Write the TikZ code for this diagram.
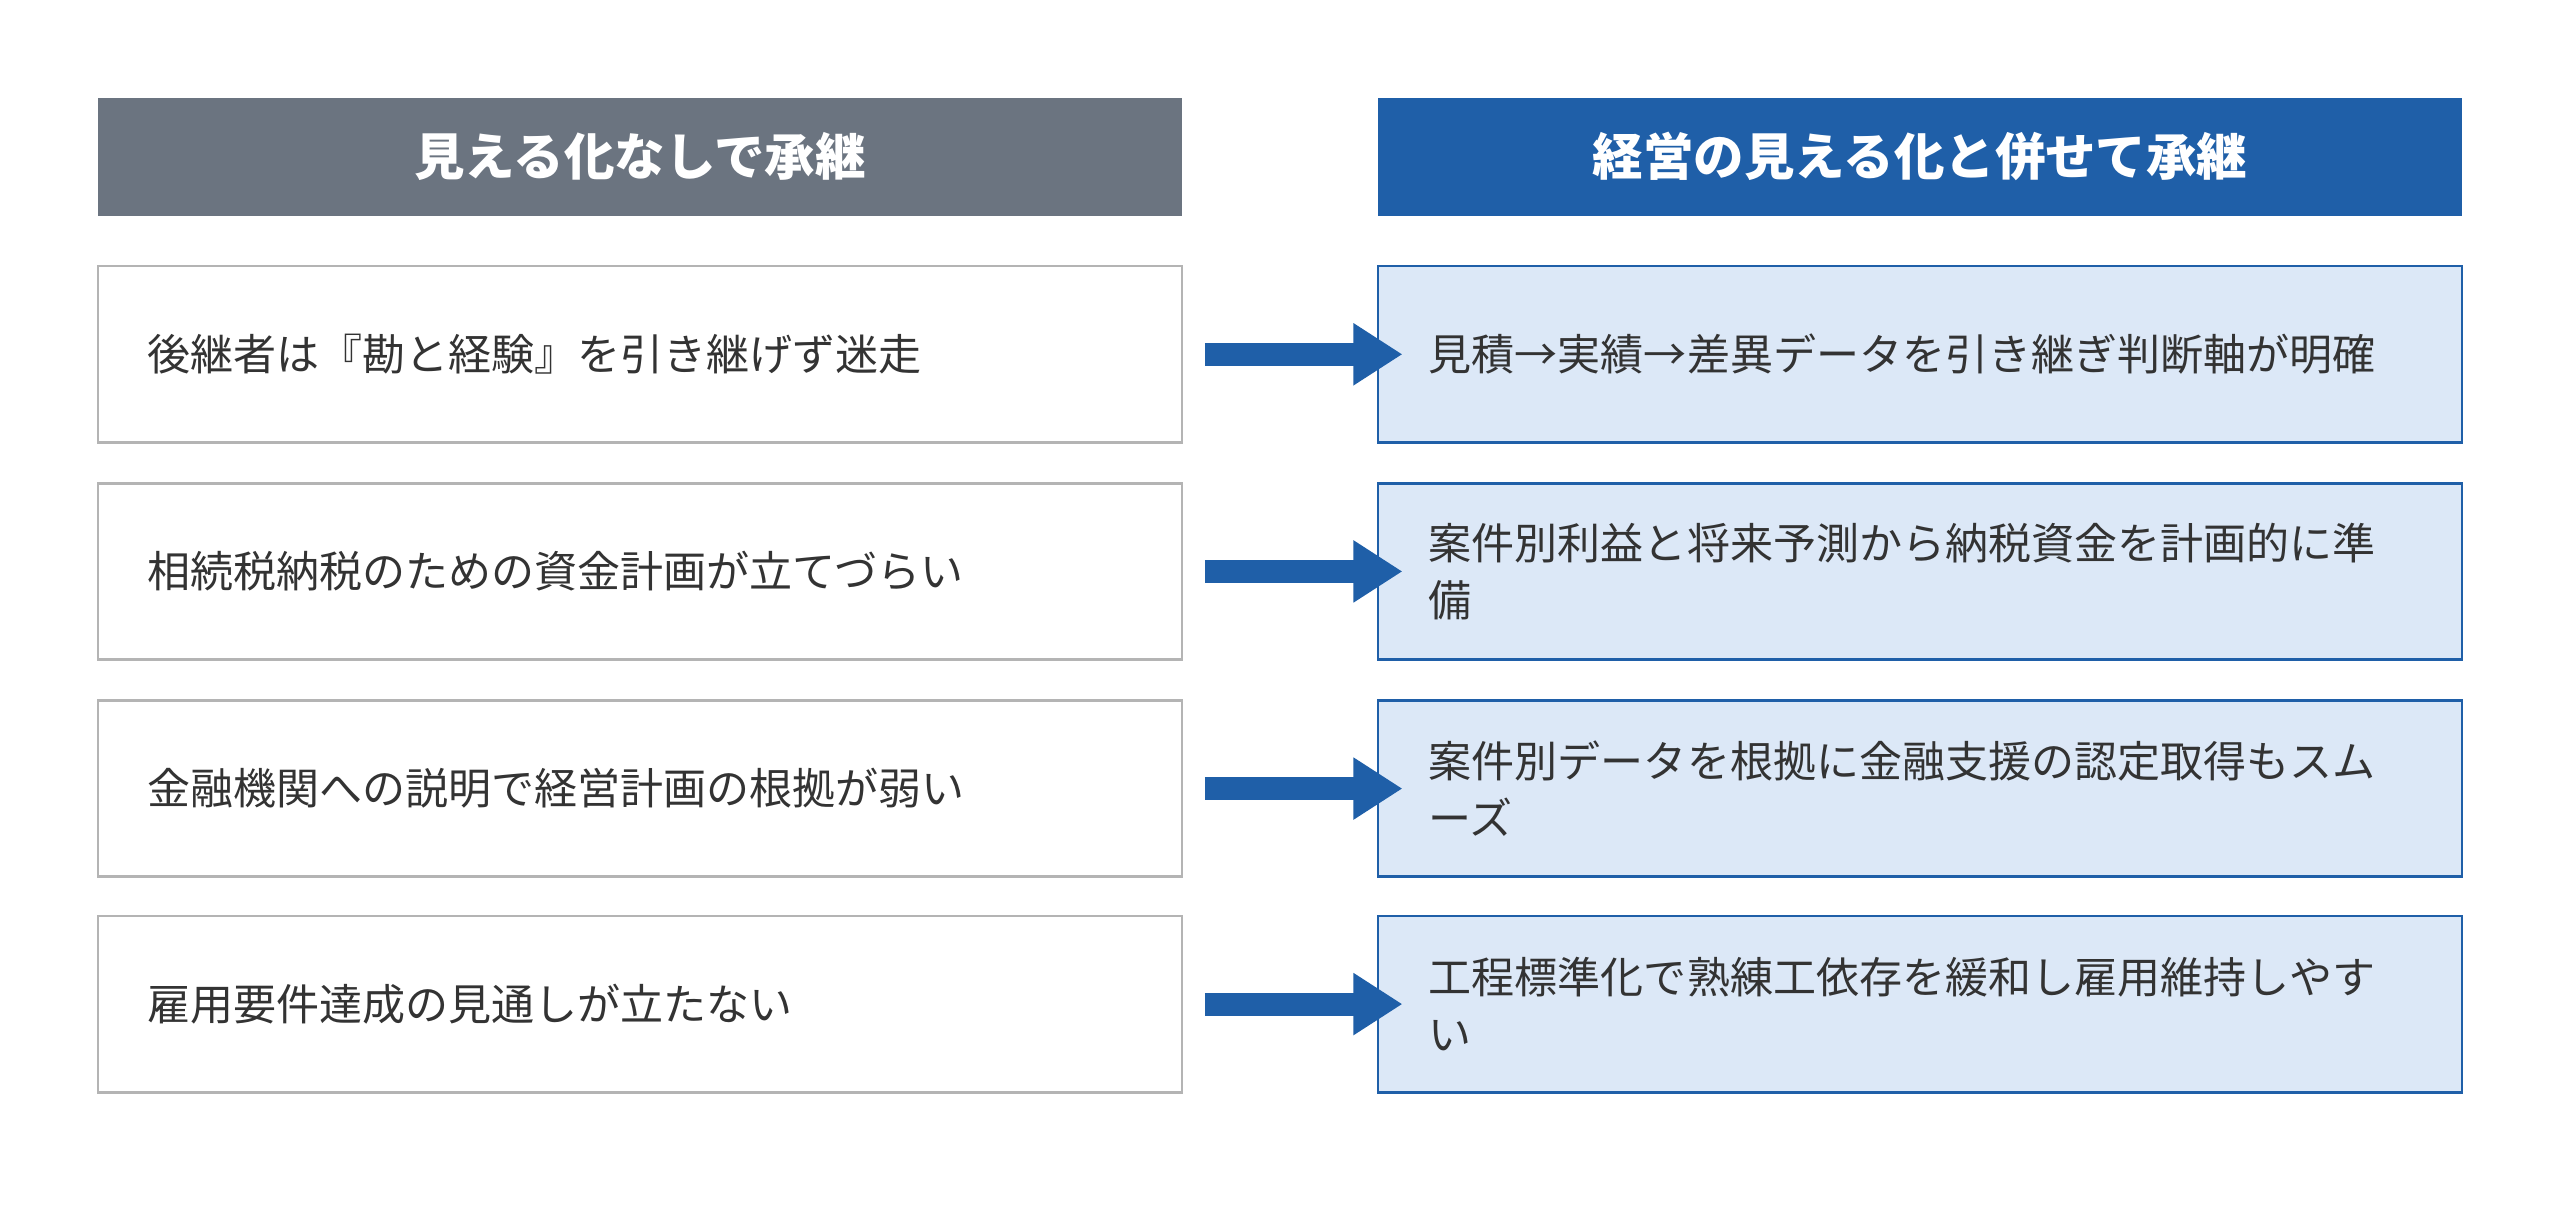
\documentclass[tikz,border=0pt]{standalone}
\usepackage{fontspec}
\setmainfont{Noto Sans CJK JP}
\usetikzlibrary{arrows.meta}
\definecolor{hgray}{HTML}{6B7480}
\definecolor{hblue}{HTML}{1F5FA8}
\definecolor{lblue}{HTML}{DCE8F7}
\definecolor{bgray}{HTML}{B4B4B4}
\definecolor{tx}{HTML}{333333}
\begin{document}
\begin{tikzpicture}[x=0.05cm,y=-0.05cm,
  head/.style={minimum width=33.2cm,minimum height=3.6cm,inner sep=0pt,text=white,font=\fontsize{44}{50}\selectfont\bfseries},
  lbox/.style={draw=bgray,line width=2.2pt,fill=white,minimum width=33.2cm,minimum height=5.4cm,inner sep=0pt},
  rbox/.style={draw=hblue,line width=2.2pt,fill=lblue,minimum width=33.2cm,minimum height=5.4cm,inner sep=0pt},
  txt/.style={anchor=west,text=tx,align=left,inner sep=0pt,font=\fontsize{37.5}{50}\selectfont},
  arr/.style={draw=hblue,line width=0.7cm,-{Triangle[length=1.5cm,width=1.8cm]}}]
\useasboundingbox (0,0) rectangle (1568,754);
\node[head,fill=hgray] (hl) at (392,96) {見える化なしで承継};
\node[head,fill=hblue] (hr) at (1176,96) {経営の見える化と併せて承継};
\foreach \i/\y/\lt/\rt in {
 1/217/{後継者は『勘と経験』を引き継げず迷走}/{見積→実績→差異データを引き継ぎ判断軸が明確},
 2/350/{相続税納税のための資金計画が立てづらい}/{案件別利益と将来予測から納税資金を計画的に準\\備},
 3/483/{金融機関への説明で経営計画の根拠が弱い}/{案件別データを根拠に金融支援の認定取得もスム\\ーズ},
 4/615/{雇用要件達成の見通しが立たない}/{工程標準化で熟練工依存を緩和し雇用維持しやす\\い}}{
  \node[lbox] (l\i) at (392,\y) {};
  \node[rbox] (r\i) at (1176,\y) {};
  \node[txt] (lt\i) at (90,\y) {\lt};
  \node[txt] (rt\i) at (875,\y) {\rt};
  \coordinate (a\i) at (738,\y);
  \coordinate (b\i) at (859,\y);
  \draw[arr] (a\i) -- (b\i);
}
\end{tikzpicture}
\end{document}
